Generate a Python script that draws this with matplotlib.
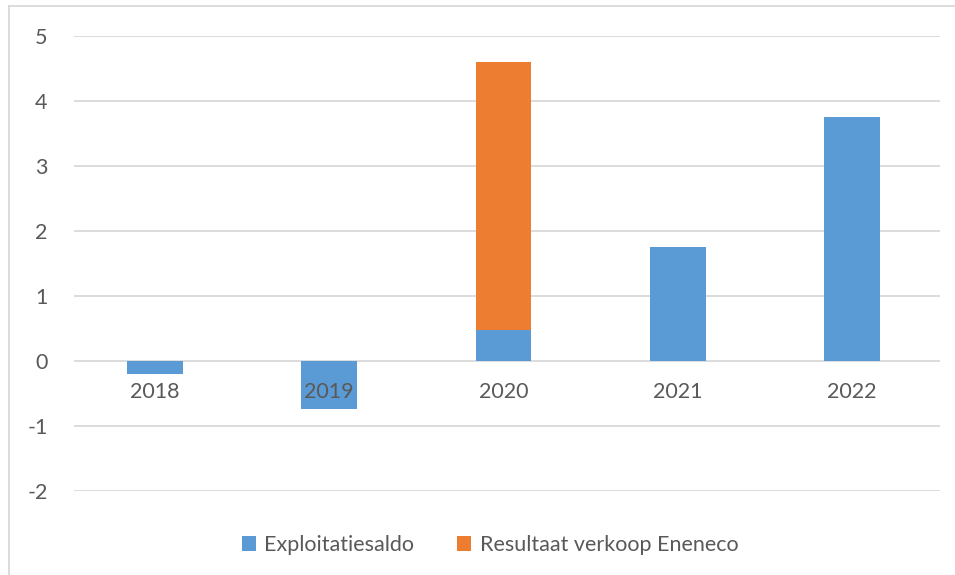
import matplotlib.pyplot as plt
from matplotlib.lines import Line2D
import numpy as np

# Data
years = ['2018', '2019', '2020', '2021', '2022']
exploitatiesaldo = [-0.2, -0.74, 0.48, 1.76, 3.75]
verkoop_eneneco = [0, 0, 4.12, 0, 0]

blue = '#5B9BD5'
orange = '#ED7D31'
text_color = '#595959'
grid_color = '#D9D9D9'
fs = 15.5

plt.rcParams['font.family'] = ['Lato', 'DejaVu Sans']
plt.rcParams['axes.unicode_minus'] = False

fig = plt.figure(figsize=(9.55, 5.75), dpi=100)
ax = fig.add_axes([74 / 955, 1 - 491 / 575, (940 - 74) / 955, (491 - 36) / 575])

x = np.arange(len(years))
width = 0.32
ax.bar(x, exploitatiesaldo, width, color=blue, label='Exploitatiesaldo', zorder=2)
ax.bar(x, verkoop_eneneco, width, bottom=exploitatiesaldo, color=orange,
       label='Resultaat verkoop Eneneco', zorder=2)

ax.set_xlim(-0.465, len(years) - 0.495)
ax.set_ylim(-2, 5)
ax.set_yticks(range(-2, 6))
ax.yaxis.grid(True, color=grid_color, linewidth=1.3)
ax.set_axisbelow(True)
ax.set_xticks([])
ax.tick_params(axis='y', length=0, pad=19, labelsize=fs, labelcolor=text_color)
for s in ax.spines.values():
    s.set_visible(False)

# category labels sit just under the zero line, above the bars
for i, yr in enumerate(years):
    ax.annotate(yr, (i, 0), xytext=(0, -15), textcoords='offset points',
                ha='center', va='top', fontsize=fs, color=text_color, zorder=3)

ax.legend(loc='center', bbox_to_anchor=(490 / 955, 1 - 545 / 575),
          bbox_transform=fig.transFigure, ncol=2, frameon=False,
          fontsize=fs, labelcolor=text_color, handlelength=0.65,
          handleheight=0.65, handletextpad=0.4, columnspacing=2.0)

# outer chart border (top and left visible)
fig.add_artist(Line2D([9 / 955, 1], [1 - 6 / 575] * 2, color=grid_color, linewidth=1.3))
fig.add_artist(Line2D([9 / 955] * 2, [0, 1 - 6 / 575], color=grid_color, linewidth=1.3))

fig.savefig('out.png', dpi=100)
